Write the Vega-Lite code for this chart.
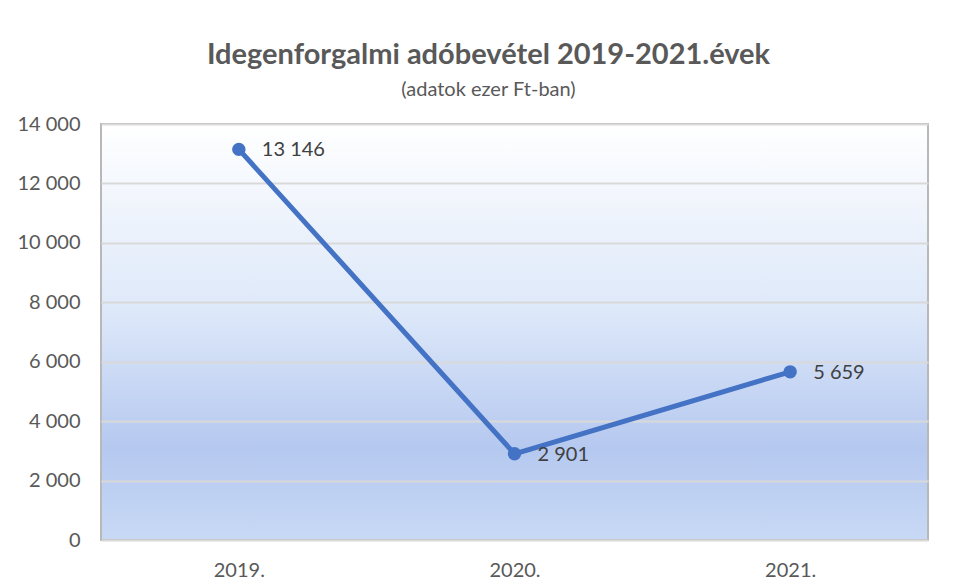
{
  "$schema": "https://vega.github.io/schema/vega-lite/v6.json",
  "autosize": "none",
  "width": 827,
  "height": 416,
  "padding": {"left": 101, "top": 124, "right": 29, "bottom": 42},
  "background": "white",
  "title": {
    "text": "Idegenforgalmi adóbevétel 2019-2021.évek",
    "subtitle": "(adatok ezer Ft-ban)",
    "font": "Lato",
    "fontSize": 29,
    "fontWeight": "bold",
    "color": "#595959",
    "subtitleFont": "Lato",
    "subtitleFontSize": 20,
    "subtitleColor": "#595959",
    "subtitlePadding": 10,
    "anchor": "middle",
    "frame": "group",
    "dx": -26,
    "offset": 14
  },
  "config": {
    "locale": {"number": {"decimal": ",", "thousands": " ", "grouping": [3], "currency": ["", " Ft"]}},
    "view": {
      "stroke": "#b8b8b8",
      "strokeWidth": 2,
      "fill": {
        "gradient": "linear",
        "x1": 0, "y1": 0, "x2": 0, "y2": 1,
        "stops": [
          {"offset": 0, "color": "#ffffff"},
          {"offset": 0.45, "color": "#dde8f9"},
          {"offset": 0.78, "color": "#b5c8ef"},
          {"offset": 1, "color": "#c8d9f5"}
        ]
      }
    }
  },
  "data": {
    "values": [
      {"ev": "2019.", "ertek": 13146},
      {"ev": "2020.", "ertek": 2901},
      {"ev": "2021.", "ertek": 5659}
    ]
  },
  "encoding": {
    "x": {
      "field": "ev", "type": "ordinal", "sort": null,
      "scale": {"type": "point", "padding": 0.5},
      "axis": {
        "title": null, "labelAngle": 0, "domain": false, "ticks": false, "grid": false,
        "labelFont": "Lato", "labelFontSize": 20, "labelColor": "#595959", "labelPadding": 20
      }
    },
    "y": {
      "field": "ertek", "type": "quantitative",
      "scale": {"domain": [0, 14000], "nice": false},
      "axis": {
        "title": null, "values": [0, 2000, 4000, 6000, 8000, 10000, 12000, 14000],
        "format": ",d", "domain": false, "ticks": false,
        "gridColor": "#d9d9d9", "gridWidth": 2,
        "labelFont": "Lato", "labelFontSize": 20, "labelColor": "#595959", "labelPadding": 21
      }
    }
  },
  "layer": [
    {"mark": {"type": "line", "color": "#4472c4", "strokeWidth": 5}},
    {"mark": {"type": "point", "filled": true, "opacity": 1, "color": "#4472c4", "size": 180}},
    {
      "mark": {"type": "text", "align": "left", "dx": 23, "dy": 1, "font": "Lato", "fontSize": 20, "color": "#404040"},
      "encoding": {"text": {"field": "ertek", "type": "quantitative", "format": ",d"}}
    }
  ]
}
